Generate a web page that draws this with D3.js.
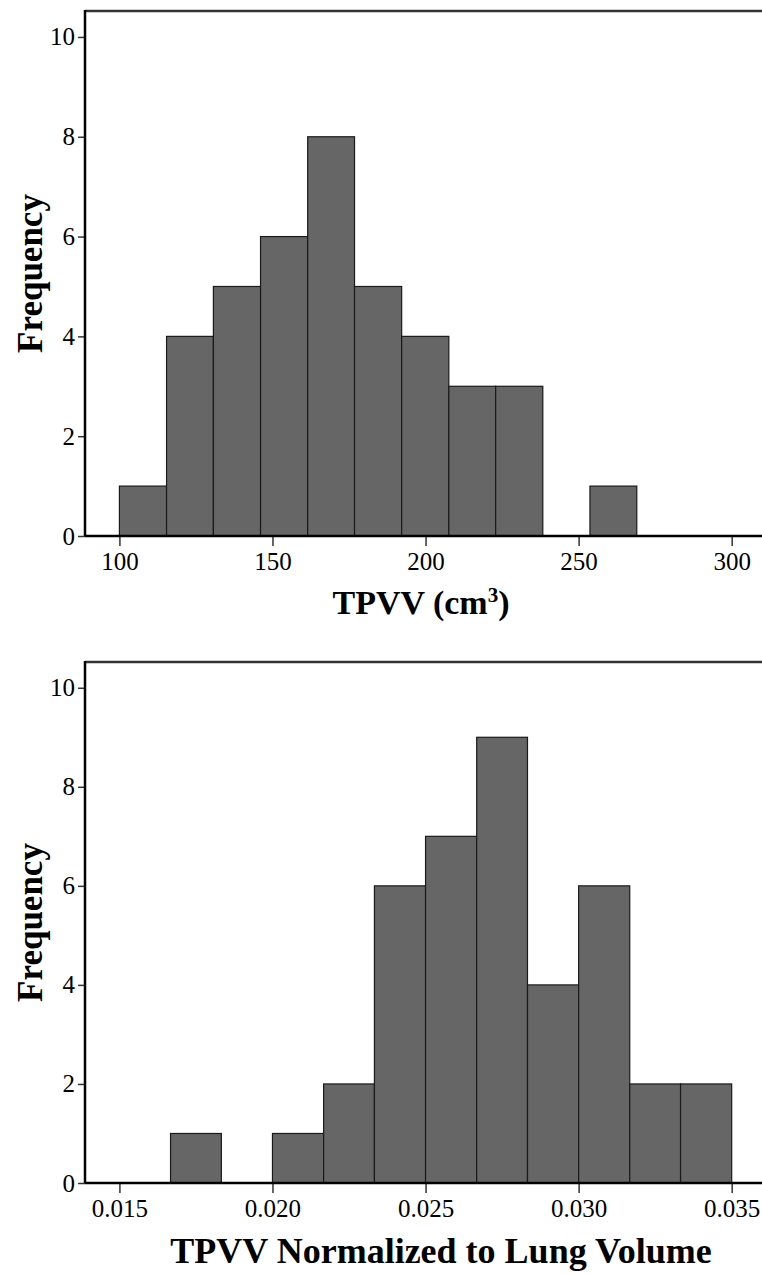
<!DOCTYPE html>
<html>
<head>
<meta charset="utf-8">
<script src="https://cdn.jsdelivr.net/npm/d3@7"></script>
<style>
  html, body { margin: 0; padding: 0; background: #fff; }
  svg { display: block; }
  text { font-family: "Liberation Serif", "DejaVu Serif", serif; }
</style>
</head>
<body>
<svg id="chart" width="762" height="1274"></svg>
<script>
// ---- Data ----
const topEdges   = [100, 115.4, 130.7, 146.1, 161.5, 176.8, 192.2, 207.6, 222.9, 238.3, 253.7, 269.0];
const topCounts  = [1, 4, 5, 6, 8, 5, 4, 3, 3, 0, 1];
const topXTicks  = [100, 150, 200, 250, 300];
const topXDomain = [88.76, 309.9];

const botEdges   = [0.01667, 0.01833, 0.02, 0.02167, 0.02333, 0.025, 0.02667, 0.02833, 0.03, 0.03167, 0.03333, 0.035];
const botCounts  = [1, 0, 1, 2, 6, 7, 9, 4, 6, 2, 2];
const botXTicks  = [0.015, 0.020, 0.025, 0.030, 0.035];
const botXDomain = [0.013876, 0.03599];

const yTicks = [0, 2, 4, 6, 8, 10];
const yMax = 10.52;

const svg = d3.select("#chart");

function histogram(cfg) {
  const g = svg.append("g");
  const x = d3.scaleLinear().domain(cfg.xDomain).range([85, 762]);
  const y = d3.scaleLinear().domain([0, yMax]).range([cfg.bottom, cfg.top]);

  const bins = cfg.counts.map((c, i) => ({ x0: cfg.edges[i], x1: cfg.edges[i + 1], n: c }))
                         .filter(d => d.n > 0);

  // top frame line
  g.append("line")
    .attr("x1", 85).attr("x2", 762)
    .attr("y1", cfg.top).attr("y2", cfg.top)
    .attr("stroke", "#333").attr("stroke-width", 2.5);

  // bars
  g.selectAll("rect.bar").data(bins).join("rect")
    .attr("class", "bar")
    .attr("x", d => x(d.x0))
    .attr("width", d => x(d.x1) - x(d.x0))
    .attr("y", d => y(d.n))
    .attr("height", d => y(0) - y(d.n))
    .attr("fill", "#666666")
    .attr("stroke", "#1a1a1a")
    .attr("stroke-width", 1.2);

  // y axis
  const ya = g.append("g").attr("transform", "translate(85,0)")
    .call(d3.axisLeft(y).tickValues(yTicks).tickSize(7).tickPadding(3).tickFormat(d3.format("d")));
  ya.select(".domain").remove();
  ya.selectAll(".tick line").attr("stroke", "#333").attr("stroke-width", 1.5);
  ya.selectAll(".tick text").attr("font-size", 25).attr("fill", "#000")
    .attr("font-family", "'Liberation Serif', serif");

  g.append("line").attr("x1", 85).attr("x2", 85)
    .attr("y1", cfg.top - 1).attr("y2", cfg.bottom)
    .attr("stroke", "#000").attr("stroke-width", 2.5);

  // x axis
  const xa = g.append("g").attr("transform", `translate(0,${cfg.bottom})`)
    .call(d3.axisBottom(x).tickValues(cfg.xTicks).tickSize(10).tickPadding(6).tickFormat(cfg.fmt));
  xa.select(".domain").remove();
  xa.selectAll(".tick line").attr("stroke", "#333").attr("stroke-width", 1.5);
  xa.selectAll(".tick text").attr("font-size", 25).attr("fill", "#000")
    .attr("font-family", "'Liberation Serif', serif");

  g.append("line").attr("x1", 85).attr("x2", 762)
    .attr("y1", cfg.bottom).attr("y2", cfg.bottom)
    .attr("stroke", "#000").attr("stroke-width", 2.5);

  // y title
  g.append("text")
    .attr("transform", `translate(42,${(cfg.top + cfg.bottom) / 2}) rotate(-90)`)
    .attr("text-anchor", "middle")
    .attr("font-size", 35).attr("font-weight", "bold")
    .text("Frequency");

  // x title
  const t = g.append("text")
    .attr("x", cfg.titleX).attr("y", cfg.titleY)
    .attr("text-anchor", "middle")
    .attr("font-size", cfg.titleSize).attr("font-weight", "bold");
  t.append("tspan").text(cfg.title);
  if (cfg.sup) {
    t.append("tspan").attr("dy", -12).attr("font-size", cfg.titleSize * 0.62).text(cfg.sup);
    t.append("tspan").attr("dy", 12).text(cfg.after);
  }
}

histogram({
  edges: topEdges, counts: topCounts, xTicks: topXTicks, xDomain: topXDomain,
  top: 11, bottom: 536, fmt: d3.format("d"),
  title: "TPVV (cm", sup: "3", after: ")", titleX: 421, titleY: 614, titleSize: 34
});

histogram({
  edges: botEdges, counts: botCounts, xTicks: botXTicks, xDomain: botXDomain,
  top: 662, bottom: 1183, fmt: d3.format(".3f"),
  title: "TPVV Normalized to Lung Volume", titleX: 441, titleY: 1263, titleSize: 36
});
</script>
</body>
</html>
